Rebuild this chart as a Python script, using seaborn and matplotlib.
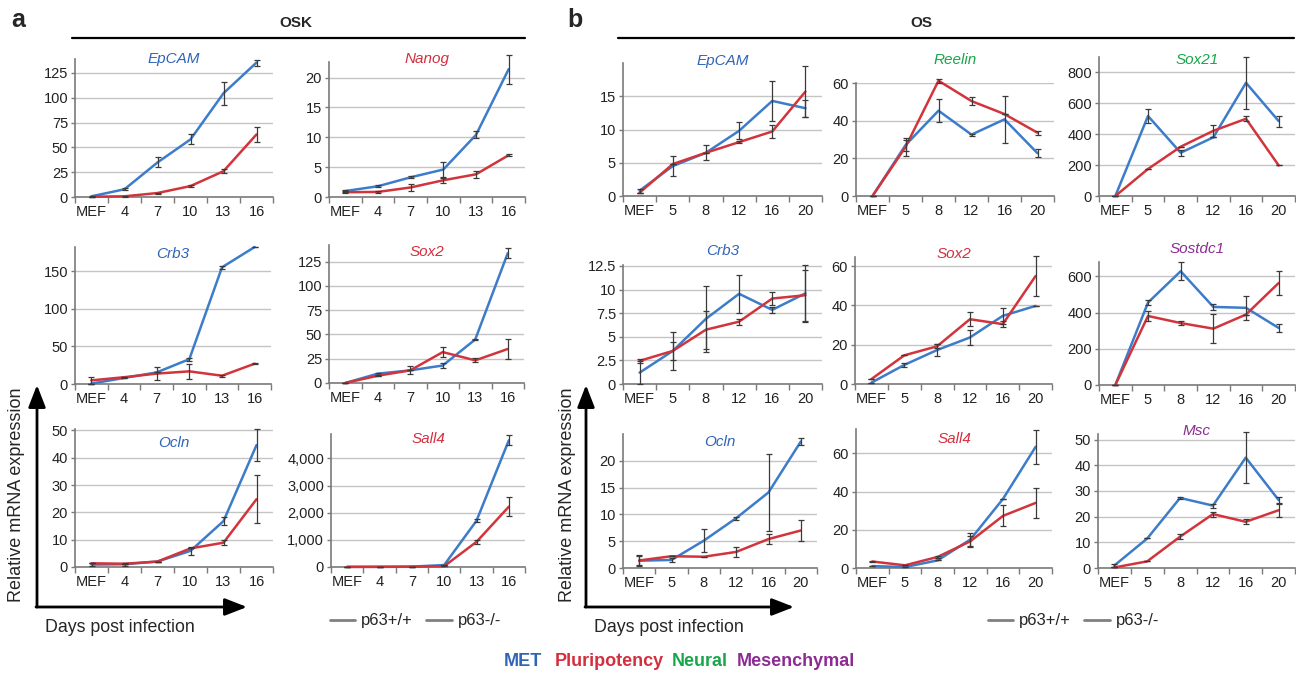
import matplotlib
matplotlib.use('Agg')
import matplotlib.pyplot as plt
from matplotlib.ticker import FuncFormatter
import seaborn as sns
import pandas as pd
import numpy as np

sns.set_theme(style='white')
plt.rcParams['font.family'] = ['Liberation Sans', 'DejaVu Sans']

# x categories
days_osk = ['MEF', '4', '7', '10', '13', '16']
days_os = ['MEF', '5', '8', '12', '16', '20']

# ---- OSK (panel a) : wt = p63+/+, ko = p63-/-
epcam_a_wt = [0.7, 7.8, 34.8, 58, 104.5, 135.4]
epcam_a_wt_err = [0.5, 1, 5, 5, 11.5, 3]
epcam_a_ko = [0.3, 0.7, 4, 11, 26, 63]
epcam_a_ko_err = [0, 0.3, 0.5, 1, 2, 7.5]

nanog_a_wt = [1.0, 1.8, 3.3, 4.6, 10.4, 21.4]
nanog_a_wt_err = [0.1, 0.15, 0.2, 1.2, 0.6, 2.4]
nanog_a_ko = [0.8, 0.85, 1.6, 2.8, 3.8, 7.0]
nanog_a_ko_err = [0.2, 0.2, 0.6, 0.4, 0.6, 0.2]

crb3_a_wt = [0.5, 8, 15.4, 33, 155, 182]
crb3_a_wt_err = [0, 0, 0, 2, 2, 0]
crb3_a_ko = [4.8, 9, 13.8, 16.8, 11, 27]
crb3_a_ko_err = [5, 0, 9, 10, 1.5, 0.5]

sox2_a_wt = [0, 9.6, 13, 18, 44.8, 133.6]
sox2_a_wt_err = [0, 1, 0, 2.5, 0.5, 5]
sox2_a_ko = [0, 7.5, 13, 31.8, 23.3, 35]
sox2_a_ko_err = [0, 0, 4, 5, 2, 10]

ocln_a_wt = [0.9, 1.0, 2.0, 5.9, 16.8, 44.6]
ocln_a_wt_err = [0.5, 0.5, 0, 1.5, 1.5, 5.8]
ocln_a_ko = [1.35, 1.2, 2.0, 6.8, 8.9, 24.8]
ocln_a_ko_err = [0, 0, 0, 0, 0.8, 8.8]

sall4_a_wt = [5, 8, 15, 72, 1704, 4667]
sall4_a_wt_err = [0, 0, 0, 0, 60, 180]
sall4_a_ko = [3, 5, 10, 30, 926, 2222]
sall4_a_ko_err = [0, 0, 0, 0, 70, 350]

# ---- OS (panel b)
epcam_b_wt = [0.8, 4.5, 6.5, 9.8, 14.3, 13.2]
epcam_b_wt_err = [0.3, 1.5, 0, 1.3, 3, 1.3]
epcam_b_ko = [0.5, 4.8, 6.5, 8.1, 9.7, 15.7]
epcam_b_ko_err = [0, 0, 1.1, 0.2, 1, 3.8]

reelin_wt = [0, 27, 45.3, 32.6, 40.7, 22.7]
reelin_wt_err = [0, 3, 6, 0.5, 12.5, 2]
reelin_ko = [0, 26, 61.2, 50.4, 43.5, 33.6]
reelin_ko_err = [0, 5, 1, 2, 0, 1]

sox21_wt = [0, 518, 280, 380, 733, 485]
sox21_wt_err = [0, 43, 20, 0, 168, 35]
sox21_ko = [0, 175, 319, 422, 500, 198]
sox21_ko_err = [0, 0, 0, 40, 15, 0]

crb3_b_wt = [1.2, 3.5, 6.9, 9.55, 7.85, 9.6]
crb3_b_wt_err = [1.2, 2, 3.5, 2, 0.3, 3]
crb3_b_ko = [2.45, 3.5, 5.75, 6.6, 9.05, 9.4]
crb3_b_ko_err = [0.2, 1, 2, 0.3, 0.7, 2.7]

sox2_b_wt = [0.7, 9.7, 17.3, 23.7, 34.7, 39.8]
sox2_b_wt_err = [0, 1, 3, 4, 4, 0]
sox2_b_ko = [2.5, 14.6, 19.2, 33, 30.5, 55]
sox2_b_ko_err = [0, 0, 1, 3.5, 1.5, 10]

sostdc1_wt = [0, 455, 628, 431, 426, 315]
sostdc1_wt_err = [0, 15, 50, 15, 65, 20]
sostdc1_ko = [0, 381, 342, 311, 389, 563]
sostdc1_ko_err = [0, 25, 10, 80, 0, 65]

ocln_b_wt = [1.36, 1.5, 5.1, 9.3, 14.1, 23.6]
ocln_b_wt_err = [1.0, 0.3, 2.2, 0.3, 7.2, 0.6]
ocln_b_ko = [1.4, 2.2, 2.1, 3.0, 5.4, 7.0]
ocln_b_ko_err = [0.9, 0, 0, 0.9, 1.0, 1.9]

sall4_b_wt = [1.0, 0.5, 4, 14.9, 36.2, 63.5]
sall4_b_wt_err = [0, 0, 0, 3.5, 0, 9]
sall4_b_ko = [3.4, 1.4, 5.8, 14, 27.3, 34.1]
sall4_b_ko_err = [0.5, 0, 0.6, 3, 5.5, 8]

msc_wt = [1, 11.5, 27.3, 24.3, 43, 26.5]
msc_wt_err = [0.5, 0, 0.3, 0.8, 10, 1]
msc_ko = [0.2, 2.6, 12.2, 21, 18, 22.5]
msc_ko_err = [0, 0, 1, 1, 1, 2.5]

genotypes = ['p63+/+', 'p63-/-']
line_colors = {'p63+/+': '#3d7cc9', 'p63-/-': '#d2343c'}
title_colors = {'MET': '#2f64b8', 'Pluri': '#d42f3f', 'Neural': '#19a64a', 'Mes': '#8c2c93'}

W, H = 1296, 673

# (title, group, days, wt, wt_err, ko, ko_err, ymax, yticks, box(l, r, t, b), title_y)
panels = [
    ('EpCAM', 'MET', days_osk, epcam_a_wt, epcam_a_wt_err, epcam_a_ko, epcam_a_ko_err,
     139, [0, 25, 50, 75, 100, 125], (75, 273, 59, 197), 59),
    ('Nanog', 'Pluri', days_osk, nanog_a_wt, nanog_a_wt_err, nanog_a_ko, nanog_a_ko_err,
     22.6, [0, 5, 10, 15, 20], (329, 525, 62, 197), 59),
    ('Crb3', 'MET', days_osk, crb3_a_wt, crb3_a_wt_err, crb3_a_ko, crb3_a_ko_err,
     182, [0, 50, 100, 150], (75, 271, 247, 384), 254),
    ('Sox2', 'Pluri', days_osk, sox2_a_wt, sox2_a_wt_err, sox2_a_ko, sox2_a_ko_err,
     142, [0, 25, 50, 75, 100, 125], (329, 524, 245, 383), 252),
    ('Ocln', 'MET', days_osk, ocln_a_wt, ocln_a_wt_err, ocln_a_ko, ocln_a_ko_err,
     50.5, [0, 10, 20, 30, 40, 50], (75, 273, 429, 567), 443),
    ('Sall4', 'Pluri', days_osk, sall4_a_wt, sall4_a_wt_err, sall4_a_ko, sall4_a_ko_err,
     4900, [0, 1000, 2000, 3000, 4000], (331, 525, 434, 567), 439),
    ('EpCAM', 'MET', days_os, epcam_b_wt, epcam_b_wt_err, epcam_b_ko, epcam_b_ko_err,
     20, [0, 5, 10, 15], (623, 822, 63, 196), 61),
    ('Reelin', 'Neural', days_os, reelin_wt, reelin_wt_err, reelin_ko, reelin_ko_err,
     60, [0, 20, 40, 60], (856, 1054, 83, 196), 60),
    ('Sox21', 'Neural', days_os, sox21_wt, sox21_wt_err, sox21_ko, sox21_ko_err,
     900, [0, 200, 400, 600, 800], (1099, 1295, 57, 196), 60),
    ('Crb3', 'MET', days_os, crb3_b_wt, crb3_b_wt_err, crb3_b_ko, crb3_b_ko_err,
     12.6, [0, 2.5, 5, 7.5, 10, 12.5], (623, 822, 265, 384), 251),
    ('Sox2', 'Pluri', days_os, sox2_b_wt, sox2_b_wt_err, sox2_b_ko, sox2_b_ko_err,
     64.7, [0, 20, 40, 60], (855, 1052, 257, 384), 254),
    ('Sostdc1', 'Mes', days_os, sostdc1_wt, sostdc1_wt_err, sostdc1_ko, sostdc1_ko_err,
     679, [0, 200, 400, 600], (1099, 1295, 262, 385), 249),
    ('Ocln', 'MET', days_os, ocln_b_wt, ocln_b_wt_err, ocln_b_ko, ocln_b_ko_err,
     25, [0, 5, 10, 15, 20], (623, 817, 434, 568), 442),
    ('Sall4', 'Pluri', days_os, sall4_b_wt, sall4_b_wt_err, sall4_b_ko, sall4_b_ko_err,
     72.8, [0, 20, 40, 60], (856, 1052, 429, 568), 439),
    ('Msc', 'Mes', days_os, msc_wt, msc_wt_err, msc_ko, msc_ko_err,
     52.2, [0, 10, 20, 30, 40, 50], (1098, 1295, 434, 568), 431),
]

fig = plt.figure(figsize=(W / 100, H / 100), dpi=100)

# overlay in pixel coordinates for headers, arrows, legends
ov = fig.add_axes([0, 0, 1, 1])
ov.set_xlim(0, W)
ov.set_ylim(H, 0)
ov.axis('off')

fmt = FuncFormatter(lambda v, p: f'{v:,g}')

for title, group, days, wt, wt_err, ko, ko_err, ymax, yticks, box, ty in panels:
    l, r, t, b = box
    ax = fig.add_axes([l / W, 1 - b / H, (r - l) / W, (b - t) / H])
    ax.patch.set_alpha(0)
    pos = np.arange(len(days))
    df = pd.DataFrame({
        'pos': np.concatenate([pos, pos]),
        'value': list(wt) + list(ko),
        'genotype': [genotypes[0]] * len(days) + [genotypes[1]] * len(days),
    })
    sns.lineplot(data=df, x='pos', y='value', hue='genotype', hue_order=genotypes,
                 palette=line_colors, lw=1.8, legend=False, ax=ax, clip_on=False, zorder=3)
    for vals, errs in ((wt, wt_err), (ko, ko_err)):
        eb = ax.errorbar(pos, vals, yerr=errs, fmt='none', ecolor='#3a3a3a',
                         elinewidth=0.9, capsize=2, capthick=0.9, zorder=4)
        for art in eb.get_children():
            art.set_clip_on(False)
    ax.set_xlim(-0.5, len(days) - 0.5)
    ax.set_ylim(0, ymax)
    ax.set_yticks(yticks)
    ax.yaxis.set_major_formatter(fmt)
    ax.set_xticks(pos)
    ax.set_xticklabels(days)
    ax.set_xticks(np.arange(-0.5, len(days), 1), minor=True)
    ax.tick_params(axis='x', which='major', length=0, pad=6, labelsize=10.5, labelcolor='#222222')
    ax.tick_params(axis='x', which='minor', length=4, width=1, color='#7a7a7a', direction='out', bottom=True)
    ax.tick_params(axis='y', which='major', length=3, width=1, color='#7a7a7a', direction='out',
                   left=True, pad=2, labelsize=10.5, labelcolor='#222222')
    ax.set_xlabel('')
    ax.set_ylabel('')
    ax.yaxis.grid(True, color='#c4c4c4', lw=1)
    ax.set_axisbelow(True)
    for side in ('top', 'right'):
        ax.spines[side].set_visible(False)
    for side in ('left', 'bottom'):
        ax.spines[side].set_color('#7a7a7a')
        ax.spines[side].set_linewidth(1.2)
    ov.text((l + r) / 2, ty, title, ha='center', va='center', fontsize=11,
            style='italic', color=title_colors[group])

# panel headers
ov.text(18, 20, 'a', fontsize=18, fontweight='bold', ha='center', va='center')
ov.text(296, 23, 'OSK', fontsize=11, fontweight='bold', ha='center', va='center')
ov.plot([72, 525], [38, 38], color='black', lw=1.6)
ov.text(575, 20, 'b', fontsize=18, fontweight='bold', ha='center', va='center')
ov.text(921, 23, 'OS', fontsize=11, fontweight='bold', ha='center', va='center')
ov.plot([618, 1294], [38, 38], color='black', lw=1.6)

# axis arrows and labels
arrow_style = dict(arrowstyle='-|>,head_length=0.9,head_width=0.35', lw=2, color='black',
                   mutation_scale=15, shrinkA=0, shrinkB=0)
for x0, x1, tx in ((37, 247, 17), (586, 794, 567)):
    ov.annotate('', xy=(x0, 385), xytext=(x0, 607), arrowprops=arrow_style)
    ov.annotate('', xy=(x1, 607), xytext=(x0 - 1, 607), arrowprops=arrow_style)
    ov.text(tx, 495, 'Relative mRNA expression', rotation=90, fontsize=13,
            ha='center', va='center')
    ov.text(x0 + 8, 627, 'Days post infection', fontsize=12.8, ha='left', va='center')

# genotype legends (grey line keys)
for lx in (330, 988):
    ov.plot([lx, lx + 25], [620, 620], color='#808080', lw=2)
    ov.text(lx + 31, 620, genotypes[0], fontsize=12, ha='left', va='center')
    ov.plot([lx + 96, lx + 122], [620, 620], color='#808080', lw=2)
    ov.text(lx + 128, 620, genotypes[1], fontsize=12, ha='left', va='center')

# gene category key
for x, label, key in ((504, 'MET', 'MET'), (555, 'Pluripotency', 'Pluri'),
                      (672, 'Neural', 'Neural'), (737, 'Mesenchymal', 'Mes')):
    ov.text(x, 661, label, fontsize=13, fontweight='bold', color=title_colors[key],
            ha='left', va='center')

fig.savefig('out.png', dpi=100)
